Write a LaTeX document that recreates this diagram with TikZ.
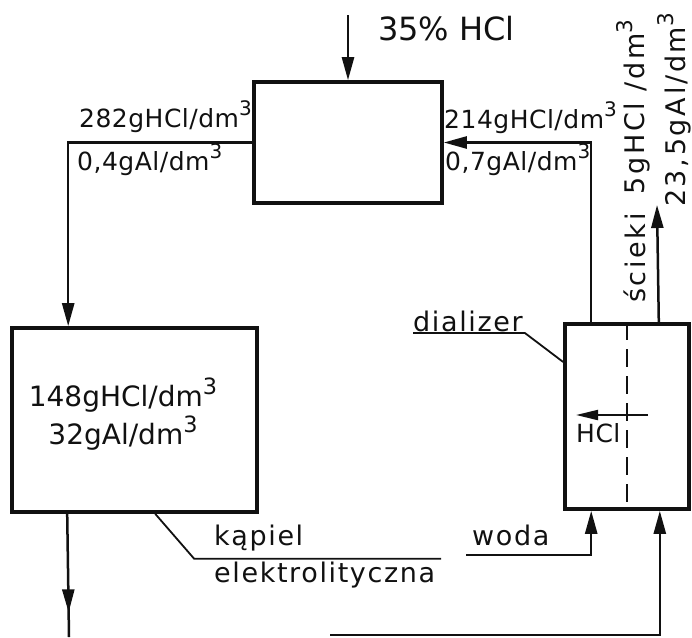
\documentclass[tikz,border=0pt]{standalone}
\usepackage{fontspec}
\setmainfont{DejaVu Sans}
\usepackage{tikz}
\usetikzlibrary{
  arrows.meta,
  positioning,
  calc,
  decorations.markings
}
\definecolor{dzInk}{HTML}{111111}
\newcommand{\dmc}{\raisebox{0.45em}{\scalebox{0.8}{3}}}
\tikzset{
  unit/.style={draw=dzInk, line width=3.6pt, inner sep=0pt},
  pipe/.style={draw=dzInk, line width=2.5pt},
  flow/.style={pipe, -{Triangle[length=23pt, width=12pt]}},
  midflow/.style={pipe, postaction={decorate},
    decoration={markings, mark=at position #1 with {\arrow{Triangle[length=23pt, width=12pt]}}}},
  diffuse/.style={pipe, line width=2pt, -{Triangle[length=22pt, width=10pt]}},
  membrane/.style={pipe, dash pattern=on 18pt off 9pt},
  leader/.style={draw=dzInk, line width=1.8pt},
  lbl/.style={font=\fontsize{25}{30}\selectfont\addfontfeature{LetterSpace=2}, inner sep=0pt, text=dzInk},
  wlbl/.style={font=\fontsize{27}{32}\selectfont\addfontfeature{LetterSpace=6}, inner sep=0pt, text=dzInk},
  biglbl/.style={font=\fontsize{32}{38}\selectfont, inner sep=0pt, text=dzInk},
  bathlbl/.style={font=\fontsize{28}{38}\selectfont, inner sep=0pt, text=dzInk, align=center},
  vlbl/.style={font=\fontsize{27}{32}\selectfont\addfontfeature{LetterSpace=10}, inner sep=0pt, text=dzInk, rotate=90}
}
\begin{document}
\begin{tikzpicture}[x=1pt, y=-1pt]
  \useasboundingbox (0,0) rectangle (692,637);
  \node[unit, minimum width=188pt, minimum height=121pt] (mix) at (348,142.5) {};
  \node[unit, minimum width=245pt, minimum height=184pt] (bath) at (134.5,420) {};
  \node[unit, minimum width=124pt, minimum height=185pt] (dial) at (627,416.5) {};
  \node[bathlbl] (bathtxt) at (123,414) {148gHCl/dm\dmc\\32gAl/dm\dmc};

  \coordinate (feed) at (348,15);
  \coordinate (waste) at (657,205);
  \coordinate (water) at (466,555);
  \coordinate (cut) at (330,635);
  \coordinate (drain) at (69,637);

  \node[biglbl, anchor=base west] (acid) at (378,40) {35\% HCl};
  \node[lbl, anchor=base east] (mixhcl) at (252,127) {282gHCl/dm\dmc};
  \node[lbl, anchor=base west] (mixal) at (77,170) {0,4gAl/dm\dmc};
  \node[lbl, anchor=base west] (rethcl) at (444,128) {214gHCl/dm\dmc};
  \node[lbl, anchor=base west] (retal) at (445,170) {0,7gAl/dm\dmc};
  \node[vlbl] (outname) at (635,258) {ścieki};
  \node[vlbl] (outhcl) at (633,107) {5gHCl /dm\dmc};
  \node[vlbl] (outal) at (674,110) {23,5gAl/dm\dmc};
  \node[wlbl, anchor=base west] (dlz) at (413,331) {dializer};
  \node[wlbl, anchor=base west] (bathname) at (214,545) {kąpiel};
  \node[wlbl, anchor=base west] (bathname2) at (214,582) {elektrolityczna};
  \node[wlbl, anchor=base west] (waterlbl) at (472,545) {woda};
  \node[lbl, anchor=north west] (hcl) at (576,423) {HCl};

  \draw[flow] (feed) -- (mix.north);
  \draw[flow] (mix.west) -| ([xshift=58pt]bath.north west);
  \draw[midflow=0.8] ([xshift=57pt]bath.south west) -- (drain);
  \draw[flow] ([xshift=28pt]dial.north west) |- (mix.east);
  \draw[flow] ([xshift=-32pt]dial.north east) -- (waste);
  \draw[flow] (water) -| ([xshift=28pt]dial.south west);
  \draw[flow] (cut) -| ([xshift=-31pt]dial.south east);
  \draw[membrane] (dial.north) -- (dial.south);
  \draw[diffuse] ([xshift=21pt, yshift=1.5pt]dial.center) -- ([xshift=-51pt, yshift=1.5pt]dial.center);
  \draw[leader] ([yshift=-1.5pt]dlz.south west) -- ++(112,0) -- ([yshift=54.5pt]dial.west);
  \draw[leader] ([xshift=145pt]bath.south west) -- ++(39,45) -- ++(247,0);
\end{tikzpicture}
\end{document}
